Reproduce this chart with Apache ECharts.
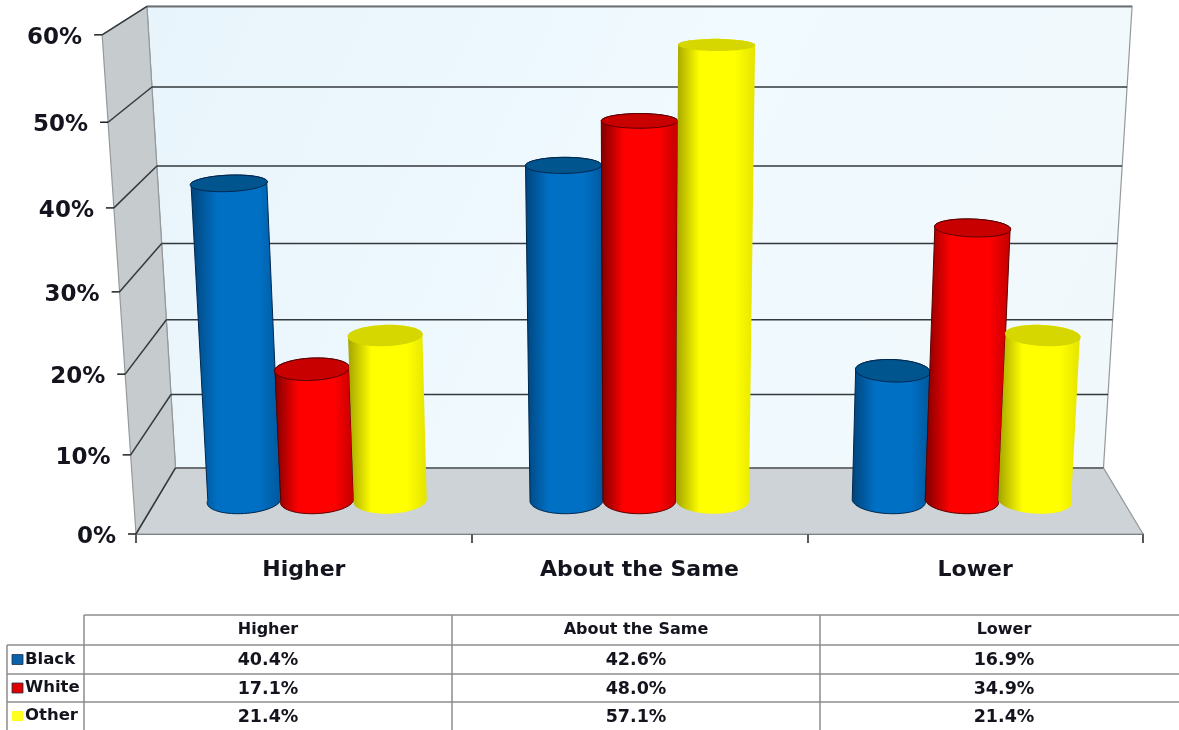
<!DOCTYPE html>
<html>
<head>
<meta charset="utf-8">
<title>Higher, about the same or lower by group</title>
<script src="https://cdn.jsdelivr.net/npm/echarts@6/dist/echarts.min.js"></script>
<style>
  html, body { margin: 0; padding: 0; background: #fff; }
  #chart { width: 1179px; height: 730px; }
</style>
</head>
<body>
<div id="chart"></div>
<script>
// Chart values
const categories = ['Higher', 'About the Same', 'Lower'];
const seriesNames = ['Black', 'White', 'Other'];
const black = [40.4, 42.6, 16.9];
const white = [17.1, 48.0, 34.9];
const other = [21.4, 57.1, 21.4];
const yTicks = [0, 10, 20, 30, 40, 50, 60];

// Front face of the plot box, in pixels
const GRID = { left: 136, top: 35, width: 1007, height: 499 };

// Perspective camera: u across the categories, v up the value axis, d into the box.
// The walls flare a little more than the cylinders, hence the separate horizontal term.
const CX = 639.5, VY = -307, M = 0.0852, K = -0.058, K_WALL = -0.063, FLOOR = 841, RISE = 519;
function project(u, v, d, kx) {
  const w = 1 + M * d + K * v;
  const wx = 1 + M * d + (kx === undefined ? K_WALL : kx) * v;
  return [CX + (u - 0.5) * GRID.width / wx, VY + (FLOOR - RISE * v) / w];
}
const toU = px => (px - GRID.left) / GRID.width;
const toV = py => (GRID.top + GRID.height - py) / GRID.height;

const FONT = 'DejaVu Sans';
const INK = '#14141e';
const BAR_SHARE = 0.2265;      // cylinder diameter as a share of the category band
const DEPTH_CENTER = 0.49, DEPTH_RADIUS = 0.2;

const palettes = [
  { stops: ['#00437a', '#0070c4', '#0070c4', '#00589c'], cap: '#00558f', line: '#00264d' },
  { stops: ['#7e0000', '#ff0000', '#ff0000', '#c00000'], cap: '#c80000', line: '#5a0000' },
  { stops: ['#a4a400', '#ffff00', '#ffff00', '#e4e400'], cap: '#d6d600', line: null }
];

function hGradient(stops) {
  return {
    type: 'linear', x: 0, y: 0, x2: 1, y2: 0,
    colorStops: [
      { offset: 0, color: stops[0] },
      { offset: 0.3, color: stops[1] },
      { offset: 0.75, color: stops[2] },
      { offset: 1, color: stops[3] }
    ]
  };
}

// Ring of points around a cylinder at height v, from angle a0 to a1
function arc(uc, ru, v, a0, a1, n) {
  const pts = [];
  for (let i = 0; i <= n; i++) {
    const a = a0 + (a1 - a0) * i / n;
    pts.push(project(uc + ru * Math.cos(a), v, DEPTH_CENTER + DEPTH_RADIUS * Math.sin(a), K));
  }
  return pts;
}

function cylinderItem(seriesIndex) {
  return function (params, api) {
    const cat = api.value(0), val = api.value(1);
    const band = api.size([1, 0])[0];
    const top = api.coord([cat, val]);
    const base = api.coord([cat, 0]);
    const uc = toU(top[0] + (seriesIndex - 1) * BAR_SHARE * band);
    const ru = toU(GRID.left + BAR_SHARE * band / 2);
    const vTop = toV(top[1]), vBase = toV(base[1]);
    const pal = palettes[seriesIndex];
    // front half of the base, then back half of the top
    const frontBase = arc(uc, ru, vBase, Math.PI, 2 * Math.PI, 36);
    const backTop = arc(uc, ru, vTop, 0, Math.PI, 36);
    const capRing = arc(uc, ru, vTop, 0, 2 * Math.PI, 72);
    const outline = pal.line
      ? { stroke: pal.line, lineWidth: 1 }
      : { stroke: null };
    return {
      type: 'group',
      children: [
        { type: 'polygon', shape: { points: frontBase.concat(backTop) },
          style: Object.assign({ fill: hGradient(pal.stops) }, outline) },
        { type: 'polygon', shape: { points: capRing },
          style: Object.assign({ fill: pal.cap }, outline) }
      ]
    };
  };
}

// Back wall, side wall and floor of the box
function boxItem() {
  const wall = (pts, fill) => ({
    type: 'polygon', shape: { points: pts }, style: { fill: fill, stroke: '#94999b', lineWidth: 1.2 }
  });
  return {
    type: 'group',
    children: [
      wall([project(0, 0, 1), project(1, 0, 1), project(1, 1, 1), project(0, 1, 1)], {
        type: 'linear', x: 0, y: 0, x2: 1, y2: 1,
        colorStops: [
          { offset: 0, color: '#e8f4fb' },
          { offset: 0.5, color: '#f0faff' },
          { offset: 1, color: '#f1f8fb' }
        ]
      }),
      wall([project(0, 0, 0), project(0, 1, 0), project(0, 1, 1), project(0, 0, 1)], '#c6cbce'),
      wall([project(0, 0, 0), project(1, 0, 0), project(1, 0, 1), project(0, 0, 1)], '#cdd3d6')
    ]
  };
}

// One value level: back gridline, diagonal on the side wall, tick and percent label
function levelItem(params, api) {
  const tick = api.value(0);
  const v = toV(api.coord([0, tick])[1]);
  const front = project(0, v, 0), back = project(0, v, 1), right = project(1, v, 1);
  const dark = { stroke: '#33393c', lineWidth: 1.5 };
  const segment = (a, b, style) => ({
    type: 'line', shape: { x1: a[0], y1: a[1], x2: b[0], y2: b[1] }, style: style
  });
  const edge = { stroke: '#6c7072', lineWidth: 2 };
  const backLine = (tick === 0 || tick === 60) ? edge : dark;
  return {
    type: 'group',
    children: [
      segment(back, right, backLine),
      segment(front, back, dark),
      segment([front[0] - 8, front[1]], front, { stroke: '#222', lineWidth: 1.5 }),
      {
        type: 'text',
        style: {
          text: tick + '%', x: front[0] - 20, y: front[1] + 3,
          align: 'right', verticalAlign: 'middle',
          fontFamily: FONT, fontWeight: 'bold', fontSize: 23, fill: INK
        }
      }
    ]
  };
}

// Data table under the plot
const COLS = [84, 452, 820, 1179];
const COL_WIDTH = 368;
const ROWS = [615, 645, 674, 702, 730];
const TABLE_LINE = { stroke: '#8c8c8c', lineWidth: 1.5 };
const swatchColors = ['#0a62ab', '#e00000', '#ffff20'];
const columnsOfValues = [black, white, other];

function tableGraphics() {
  const out = [];
  const rule = (x1, y1, x2, y2) => out.push({
    type: 'line', shape: { x1, y1, x2, y2 }, style: TABLE_LINE, silent: true
  });
  const label = (text, x, y, size, align) => out.push({
    type: 'text', silent: true,
    style: { text, x, y, align: align || 'center', verticalAlign: 'middle',
      fontFamily: FONT, fontWeight: 'bold', fontSize: size, fill: INK }
  });
  rule(COLS[0], ROWS[0], COLS[3], ROWS[0]);
  for (let r = 1; r < ROWS.length - 1; r++) rule(7, ROWS[r], COLS[3], ROWS[r]);
  rule(7, ROWS[1], 7, ROWS[4]);
  COLS.slice(0, 3).forEach(x => rule(x, ROWS[0], x, ROWS[4]));
  categories.forEach((name, c) => {
    const cx = COLS[c] + COL_WIDTH / 2;
    label(name, cx, 630, 16);
    columnsOfValues.forEach((vals, s) => {
      label(vals[c].toFixed(1) + '%', cx, (ROWS[s + 1] + ROWS[s + 2]) / 2 + 1, 17.5);
    });
  });
  seriesNames.forEach((name, s) => {
    const cy = (ROWS[s + 1] + ROWS[s + 2]) / 2;
    out.push({
      type: 'rect', silent: true,
      shape: { x: 12, y: cy - 5, width: 11, height: 10 },
      style: { fill: swatchColors[s], stroke: s < 2 ? '#20304a' : null, lineWidth: 0.8 }
    });
    label(name, 25, cy, 16.5, 'left');
  });
  return out;
}

const chart = echarts.init(document.getElementById('chart'));
chart.setOption({
  animation: false,
  backgroundColor: '#ffffff',
  grid: GRID,
  xAxis: {
    type: 'category',
    data: categories,
    axisLine: { lineStyle: { color: '#33393c', width: 1.5 } },
    axisTick: { show: true, alignWithLabel: false, length: 9, lineStyle: { color: '#222', width: 1.5 } },
    axisLabel: { fontFamily: FONT, fontWeight: 'bold', fontSize: 22, color: INK, margin: 25 }
  },
  yAxis: { type: 'value', min: 0, max: 60, interval: 10, show: false },
  tooltip: { show: false },
  series: [
    { type: 'custom', name: 'box', silent: true, z: 1, data: [[0]], renderItem: boxItem, encode: { x: 0 } },
    { type: 'custom', name: 'levels', silent: true, z: 2, data: yTicks.map(t => [t]), renderItem: levelItem, encode: { y: 0 } }
  ].concat(columnsOfValues.map((vals, s) => ({
    type: 'custom',
    name: seriesNames[s],
    z: 3 + s,
    data: vals.map((v, i) => [i, v]),
    encode: { x: 0, y: 1 },
    renderItem: cylinderItem(s)
  }))),
  graphic: tableGraphics()
});
</script>
</body>
</html>
